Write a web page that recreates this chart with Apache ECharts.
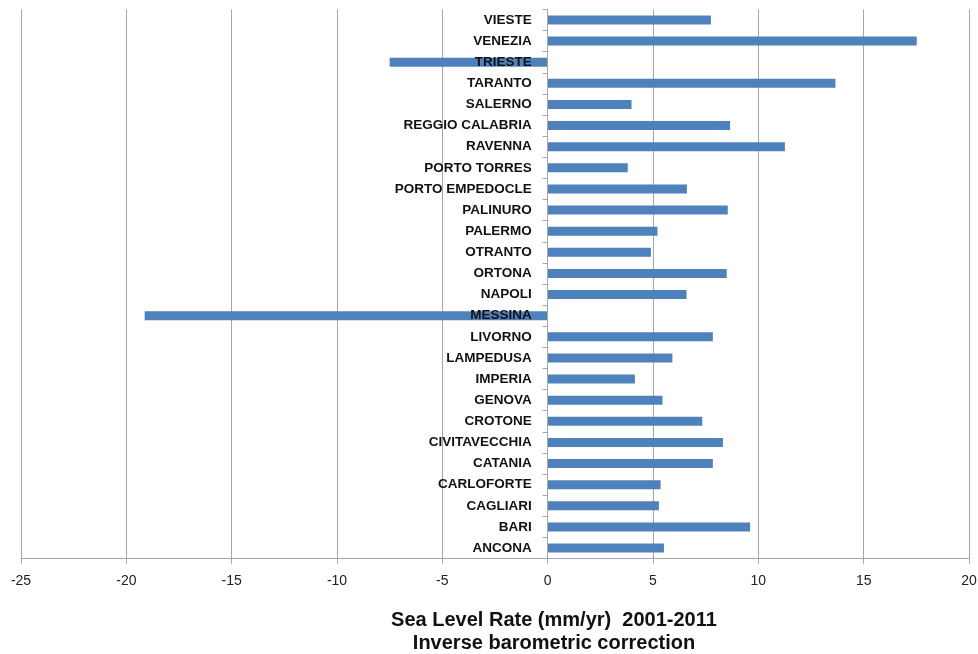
<!DOCTYPE html>
<html><head><meta charset="utf-8">
<script src="https://cdn.jsdelivr.net/npm/echarts@6/dist/echarts.min.js"></script>
<style>html,body{margin:0;padding:0;background:#fff}#c{width:978px;height:654px}</style>
</head><body><div id="c"></div>
<script>
const categories = ["ANCONA","BARI","CAGLIARI","CARLOFORTE","CATANIA","CIVITAVECCHIA","CROTONE","GENOVA","IMPERIA","LAMPEDUSA","LIVORNO","MESSINA","NAPOLI","ORTONA","OTRANTO","PALERMO","PALINURO","PORTO EMPEDOCLE","PORTO TORRES","RAVENNA","REGGIO CALABRIA","SALERNO","TARANTO","TRIESTE","VENEZIA","VIESTE"];
const rates = [5.52,9.61,5.28,5.36,7.84,8.32,7.34,5.45,4.14,5.92,7.84,-19.13,6.59,8.50,4.90,5.21,8.55,6.61,3.80,11.26,8.66,3.98,13.66,-7.50,17.52,7.75];
const xTicks = {min:-25, max:20, interval:5};
const titleLines = ["Sea Level Rate (mm/yr)  2001-2011","Inverse barometric correction"];

const gridLeft = 21, gridRight = 9;
const plotW = 978 - gridLeft - gridRight;
const zeroOffset = -plotW * (0 - xTicks.min) / (xTicks.max - xTicks.min);

const chart = echarts.init(document.getElementById('c'));
chart.setOption({
  animation:false,
  backgroundColor:'#fff',
  title:{
    text:titleLines.join('\n'),
    left:549, top:604, textAlign:'center',
    textStyle:{fontFamily:'Liberation Sans, Arial, sans-serif', fontWeight:'bold', fontSize:20, color:'#111', lineHeight:23}
  },
  grid:{left:gridLeft, right:gridRight, top:9.4, bottom:95.4, containLabel:false, outerBoundsMode:'none'},
  xAxis:{
    type:'value', min:xTicks.min, max:xTicks.max, interval:xTicks.interval,
    axisLine:{show:true, onZero:false, lineStyle:{color:'#a6a6a6', width:1}},
    axisTick:{show:true, length:5, lineStyle:{color:'#a6a6a6'}},
    axisLabel:{margin:16, fontFamily:'Liberation Sans, Arial, sans-serif', fontSize:14, color:'#222'},
    splitLine:{show:true, lineStyle:{color:'#a6a6a6', width:1}}
  },
  yAxis:{
    type:'category', data:categories, offset:zeroOffset, z:5,
    axisLine:{show:true, onZero:false, lineStyle:{color:'#a6a6a6', width:1}},
    axisTick:{show:true, length:5, alignWithLabel:false, lineStyle:{color:'#a6a6a6'}},
    axisLabel:{margin:16, fontFamily:'Liberation Sans, Arial, sans-serif', fontWeight:'bold', fontSize:13.5, color:'#111', interval:0},
    splitLine:{show:false}
  },
  series:[{
    type:'bar', data:rates, barWidth:9, z:2,
    itemStyle:{color:'#4f81bd'}
  }]
});
</script></body></html>
